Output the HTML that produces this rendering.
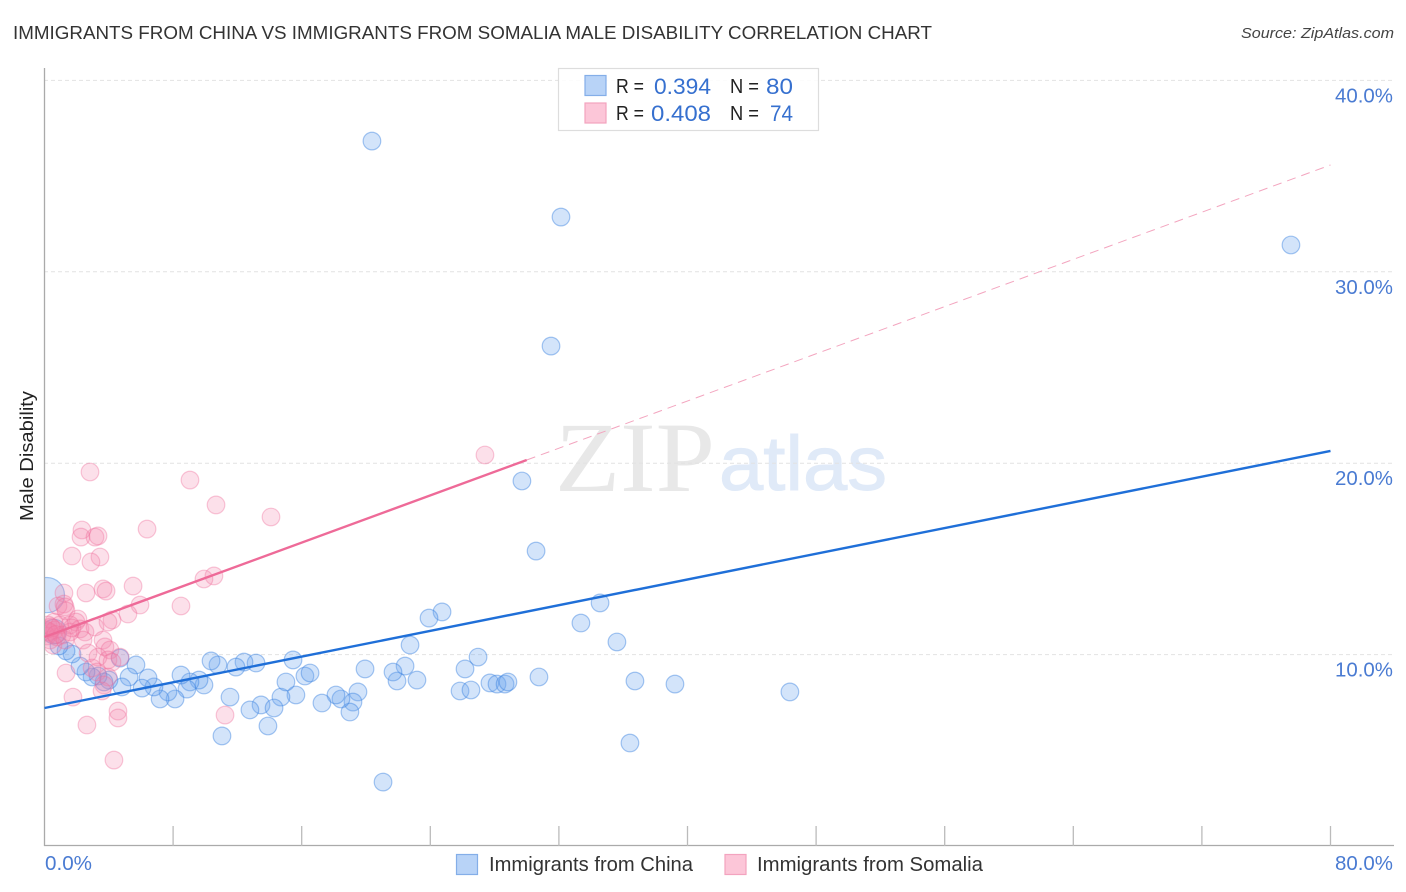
<!DOCTYPE html>
<html lang="en">
<head>
<meta charset="utf-8">
<title>Immigrants from China vs Immigrants from Somalia Male Disability Correlation Chart</title>
<style>
html,body{margin:0;padding:0;background:#fff;width:1406px;height:892px;overflow:hidden}
svg{display:block;font-family:"Liberation Sans",sans-serif}
</style>
</head>
<body>
<svg id="chart" width="1406" height="892" viewBox="0 0 1406 892">
  <defs><clipPath id="plot-clip"><rect x="45" y="60" width="1350" height="786"/></clipPath></defs>
  <text x="13" y="39" font-size="18.5" fill="#333" textLength="919" lengthAdjust="spacingAndGlyphs">IMMIGRANTS FROM CHINA VS IMMIGRANTS FROM SOMALIA MALE DISABILITY CORRELATION CHART</text>
  <text x="1394" y="38" font-size="15" font-style="italic" fill="#444" text-anchor="end" textLength="153" lengthAdjust="spacingAndGlyphs">Source: ZipAtlas.com</text>
  <text x="555" y="491" font-family="Liberation Serif" font-size="100" fill="#e8e8e8" textLength="160" lengthAdjust="spacingAndGlyphs">ZIP</text>
  <text x="719" y="490" font-size="77" fill="#e0eaf8" stroke="#e0eaf8" stroke-width="1" textLength="168" lengthAdjust="spacingAndGlyphs">atlas</text>
  <g id="grid"></g>
  <g id="axes"></g>
  <g id="dots-blue" clip-path="url(#plot-clip)"></g>
  <g id="dots-pink" clip-path="url(#plot-clip)"></g>
  <g id="trends"></g>
  <text transform="translate(33,456) rotate(-90)" font-size="18" fill="#222" text-anchor="middle" textLength="130" lengthAdjust="spacingAndGlyphs">Male Disability</text>

  <g>
    <rect x="558.5" y="68.5" width="260" height="62" fill="#fff" fill-opacity="0.9" stroke="#ddd" stroke-width="1.2"/>
    <rect x="585" y="75.5" width="21" height="20" fill="#b8d3f7" stroke="#84aee8" stroke-width="1.2"/>
    <rect x="585" y="103" width="21" height="20" fill="#fcc6d8" stroke="#f3a3bf" stroke-width="1.2"/>
    <text x="616" y="93" font-size="20" fill="#222" textLength="28" lengthAdjust="spacingAndGlyphs">R =</text>
    <text x="654" y="94" font-size="22" fill="#3670cf" textLength="57" lengthAdjust="spacingAndGlyphs">0.394</text>
    <text x="730" y="93" font-size="20" fill="#222" textLength="29" lengthAdjust="spacingAndGlyphs">N =</text>
    <text x="766" y="94" font-size="22" fill="#3670cf" textLength="27" lengthAdjust="spacingAndGlyphs">80</text>
    <text x="616" y="120" font-size="20" fill="#222" textLength="28" lengthAdjust="spacingAndGlyphs">R =</text>
    <text x="651" y="121" font-size="22" fill="#3670cf" textLength="60" lengthAdjust="spacingAndGlyphs">0.408</text>
    <text x="730" y="120" font-size="20" fill="#222" textLength="29" lengthAdjust="spacingAndGlyphs">N =</text>
    <text x="770" y="121" font-size="22" fill="#3670cf" textLength="23" lengthAdjust="spacingAndGlyphs">74</text>
  </g>

  <g>
    <rect x="456.5" y="854.5" width="21" height="20" fill="#b8d3f7" stroke="#84aee8" stroke-width="1.2"/>
    <text x="489" y="871" font-size="20" fill="#333" textLength="204" lengthAdjust="spacingAndGlyphs">Immigrants from China</text>
    <rect x="725" y="854.5" width="21" height="20" fill="#fcc6d8" stroke="#f3a3bf" stroke-width="1.2"/>
    <text x="757" y="871" font-size="20" fill="#333" textLength="226" lengthAdjust="spacingAndGlyphs">Immigrants from Somalia</text>
  </g>
</svg>
<script>
const xTickValues = [0,8,16,24,32,40,48,56,64,72,80];
const yTickValues = [10,20,30,40];
const yTickLabels = ["10.0%","20.0%","30.0%","40.0%"];
const xEndLabels = ["0.0%","80.0%"];

const chinaX = [20.37,32.13,77.54,31.51,29.70,30.58,34.56,33.37,35.61,24.73,23.92,22.74,26.97,26.16,30.76,36.73,39.22,46.37,36.42,21.06,11.04,13.90,27.71,28.15,28.65,28.83,25.85,26.53,23.17,21.93,22.43,21.68,19.94,19.50,19.19,19.00,18.44,18.13,17.26,15.64,14.71,15.02,16.20,16.52,15.46,13.16,12.41,11.91,10.79,10.36,13.47,14.28,12.78,11.54,9.92,9.61,9.05,8.86,8.49,8.12,7.68,7.19,6.81,6.44,6.07,5.69,5.26,4.82,4.70,4.01,3.70,3.33,2.96,2.58,2.21,1.71,1.34,0.90,0.15,0.60];
const chinaY = [36.83,32.86,31.40,26.12,19.07,15.41,12.70,11.65,10.66,12.23,11.91,10.50,9.87,9.25,8.83,8.62,8.46,8.05,5.38,3.34,5.75,6.27,8.52,8.46,8.46,8.57,8.10,8.15,8.67,8.62,9.40,9.09,9.25,8.05,7.52,7.00,7.68,7.89,7.47,7.89,7.78,8.57,8.88,9.04,9.72,9.56,9.61,9.35,9.46,9.67,7.37,7.21,7.11,7.78,8.41,8.67,8.57,8.20,8.93,7.68,8.05,7.68,8.31,8.78,8.25,9.46,8.83,8.31,9.82,8.67,8.57,8.88,8.83,9.09,9.40,10.03,10.19,10.45,13.11,11.20];
const chinaWeight = [1,1,1,1,1,1,1,1,1,1,1,1,1,1,1,1,1,1,1,1,1,1,1,1,1,1,1,1,1,1,1,1,1,1,1,1,1,1,1,1,1,1,1,1,1,1,1,1,1,1,1,1,1,1,1,1,1,1,1,1,1,1,1,1,1,1,1,1,1,1,1,1,1,1,1,1,1,1,2,1.4];

const somaliaX = [27.40,2.83,9.05,10.67,14.09,6.38,2.33,2.27,3.14,3.33,1.71,3.45,2.89,10.54,9.92,5.51,2.58,3.64,3.83,5.94,8.49,5.19,1.21,1.21,0.84,1.28,1.34,4.20,3.95,2.08,1.96,1.59,2.21,2.52,2.40,3.14,3.64,3.76,4.07,4.70,2.71,3.33,3.27,2.96,3.95,4.20,3.95,3.70,1.34,1.77,2.64,4.57,4.57,3.58,4.32,11.23,0.09,0.22,0.34,0.47,0.59,0.16,0.34,0.65,0.78,0.96,1.09,0.53,1.28,1.59,1.71,0.28,0.40,0.70];
const somaliaY = [20.43,19.54,19.12,17.82,17.19,16.56,16.51,16.14,16.14,16.20,15.15,15.10,14.84,14.11,13.95,13.58,13.22,13.43,13.32,12.59,12.54,12.12,13.22,12.64,12.54,12.49,12.28,11.81,11.70,11.86,11.70,11.55,11.34,11.18,10.76,11.44,10.76,10.40,10.24,9.87,10.08,9.87,9.09,9.30,9.72,9.61,8.83,8.41,9.04,7.78,6.32,7.05,6.69,8.10,4.49,6.84,11.29,11.55,11.13,11.39,11.70,10.97,10.76,11.29,10.92,11.55,11.02,10.50,10.76,11.18,11.39,11.20,11.45,11.05];

const chinaTrend = [7.21,20.64];
const somaliaTrend = [10.92,35.58];
const trendDomainX = [0,80];
const somaliaSolidEndX = 30;

const NS = "http://www.w3.org/2000/svg";
const xScale = v => 44.5 + v * 16.075;
const yScale = v => 846 - v * 19.14;
const trendAt = (t, x) => t[0] + (t[1] - t[0]) * (x - trendDomainX[0]) / (trendDomainX[1] - trendDomainX[0]);
function mk(parent, tag, attrs, text) {
  const el = document.createElementNS(NS, tag);
  for (const k in attrs) el.setAttribute(k, attrs[k]);
  if (text !== undefined) el.textContent = text;
  parent.appendChild(el);
  return el;
}
const grid = document.getElementById('grid');
const axes = document.getElementById('axes');
const dotsBlue = document.getElementById('dots-blue');
const dotsPink = document.getElementById('dots-pink');
const trends = document.getElementById('trends');

yTickValues.forEach((v, i) => {
  const g = mk(grid, 'line', {x1: 44, x2: 1394, y1: yScale(v), y2: yScale(v), stroke: '#e2e2e2', 'stroke-width': 1, 'stroke-dasharray': '4 3'});
  
  
  const t = mk(axes, 'text', {x: 1393, y: yScale(v) + 22, 'font-size': 20, fill: '#4a7bd2', 'text-anchor': 'end', textLength: 58, lengthAdjust: 'spacingAndGlyphs'}, yTickLabels[i]);
  
  
});

const yAxis = mk(axes, 'line', {x1: 44.5, x2: 44.5, y1: 68, y2: 846, stroke: '#aaaaaa', 'stroke-width': 1.3});


const xAxis = mk(axes, 'line', {x1: 44, x2: 1394, y1: 845.5, y2: 845.5, stroke: '#aaaaaa', 'stroke-width': 1.3});



xTickValues.slice(1).forEach(v => {
  const tick = mk(axes, 'line', {x1: xScale(v), x2: xScale(v), y1: 826, y2: 846, stroke: '#bbbbbb', 'stroke-width': 1.3});
  
  
});
const x0Label = mk(axes, 'text', {x: 45, y: 870, 'font-size': 20, fill: '#4a7bd2', textLength: 47, lengthAdjust: 'spacingAndGlyphs'}, xEndLabels[0]);


const x1Label = mk(axes, 'text', {x: 1393, y: 870, 'font-size': 20, fill: '#4a7bd2', 'text-anchor': 'end', textLength: 58, lengthAdjust: 'spacingAndGlyphs'}, xEndLabels[1]);



chinaX.forEach((v, i) => {
  const c = mk(dotsBlue, 'circle', {cx: xScale(v), cy: yScale(chinaY[i]), r: 8.8 * chinaWeight[i], fill: 'rgba(110,165,240,0.3)', stroke: 'rgba(60,130,225,0.45)', 'stroke-width': 1.2});
  
  
});
somaliaX.forEach((v, i) => {
  const c = mk(dotsPink, 'circle', {cx: xScale(v), cy: yScale(somaliaY[i]), r: 8.8, fill: 'rgba(245,130,170,0.25)', stroke: 'rgba(238,110,155,0.38)', 'stroke-width': 1.2});
  
  
});

const blueLine = mk(trends, 'line', {x1: xScale(trendDomainX[0]), y1: yScale(trendAt(chinaTrend, trendDomainX[0])), x2: xScale(trendDomainX[1]), y2: yScale(trendAt(chinaTrend, trendDomainX[1])), stroke: '#1f6fd8', 'stroke-width': 2.4});


const pinkLine = mk(trends, 'line', {x1: xScale(trendDomainX[0]), y1: yScale(trendAt(somaliaTrend, trendDomainX[0])), x2: xScale(somaliaSolidEndX), y2: yScale(trendAt(somaliaTrend, somaliaSolidEndX)), stroke: '#ee6a98', 'stroke-width': 2.4});


const pinkDash = mk(trends, 'line', {x1: xScale(somaliaSolidEndX), y1: yScale(trendAt(somaliaTrend, somaliaSolidEndX)), x2: xScale(trendDomainX[1]), y2: yScale(trendAt(somaliaTrend, trendDomainX[1])), stroke: '#f3a5bf', 'stroke-width': 1, 'stroke-dasharray': '9 6'});


</script>
</body>
</html>
